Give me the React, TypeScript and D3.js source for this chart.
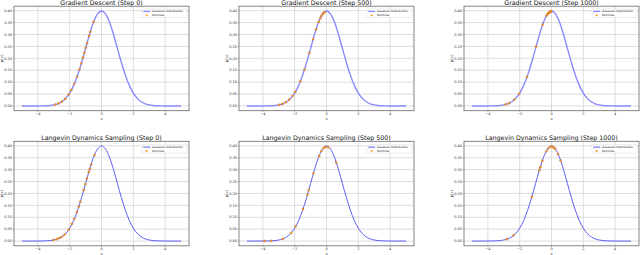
import React, { useEffect, useRef } from 'react';
import * as d3 from 'd3';

// density of the target Gaussian, read at x = -5 .. 5 step 0.25
const densityValues = [
  0.0, 0.0, 0.0, 0.0, 0.0001, 0.0004, 0.0009, 0.002, 0.0044, 0.0091, 0.0175,
  0.0317, 0.054, 0.0863, 0.1295, 0.1826, 0.242, 0.3011, 0.3521, 0.3867, 0.3989,
  0.3867, 0.3521, 0.3011, 0.242, 0.1826, 0.1295, 0.0863, 0.054, 0.0317, 0.0175,
  0.0091, 0.0044, 0.002, 0.0009, 0.0004, 0.0001, 0.0, 0.0, 0.0, 0.0,
];
const densityX = d3.range(densityValues.length).map(i => -5 + i * 0.25);

const titles = [
  'Gradient Descent (Step 0)',
  'Gradient Descent (Step 500)',
  'Gradient Descent (Step 1000)',
  'Langevin Dynamics Sampling (Step 0)',
  'Langevin Dynamics Sampling (Step 500)',
  'Langevin Dynamics Sampling (Step 1000)',
];

// particle positions (x) per panel
const gdStep0 = [-2.91, -2.7, -2.49, -2.28, -2.07, -1.9, -1.71, -1.54, -1.39, -1.27, -1.16, -1.08, -0.99, -0.91, -0.78, -0.7, -0.49];
const gdStep500 = [-2.97, -2.76, -2.55, -2.34, -2.13, -1.96, -1.65, -1.39, -1.08, -0.84, -0.65, -0.49, -0.38, -0.3, -0.21, -0.13];
const gdStep1000 = [-2.87, -2.66, -2.34, -2.03, -1.54, -0.97, -0.55, -0.3, -0.25, -0.19, -0.12, -0.08, -0.05, -0.02];
const ldStep0 = [-3.02, -2.81, -2.64, -2.49, -2.32, -2.07, -1.86, -1.71, -1.54, -1.43, -1.33, -1.12, -1.01, -0.91, -0.8, -0.74, -0.65, -0.44];
const ldStep500 = [-3.9, -3.48, -2.74, -2.22, -1.94, -1.48, -1.2, -1.12, -0.82, -0.46, -0.32, -0.19, -0.08, 0.11, 0.61];
const ldStep1000 = [-2.81, -2.38, -1.24, -0.76, -0.7, -0.57, -0.32, -0.19, -0.06, 0.04, 0.15, 0.23, 0.4, 0.57];
const particleSets = [gdStep0, gdStep500, gdStep1000, ldStep0, ldStep500, ldStep1000];

const xTicks = [-4, -2, 0, 2, 4];
const yTicks = [0, 0.05, 0.1, 0.15, 0.2, 0.25, 0.3, 0.35, 0.4];

function App() {
  const svgRef = useRef<SVGSVGElement>(null);

  useEffect(() => {
    const svg = d3.select(svgRef.current);
    svg.selectAll('*').remove();

    const colLeft = [14, 239, 464];
    const rowTop = [6.2, 141.3];
    const axW = 175;
    const axH = 104.5;
    const font = 'DejaVu Sans, sans-serif';

    const densityAt = d3.scaleLinear().domain(densityX).range(densityValues);

    titles.forEach((title, i) => {
      const row = Math.floor(i / 3);
      const col = i % 3;
      const g = svg.append('g')
        .attr('transform', `translate(${colLeft[col]},${rowTop[row]})`);

      const x = d3.scaleLinear().domain([-5.5, 5.5]).range([0, axW]);
      const y = d3.scaleLinear().domain([-0.01995, 0.4189]).range([axH, 0]);

      // grid
      g.selectAll('line.gx').data(xTicks).enter().append('line')
        .attr('x1', d => x(d)).attr('x2', d => x(d))
        .attr('y1', 0).attr('y2', axH)
        .attr('stroke', '#d9d9d9').attr('stroke-width', 0.9);
      g.selectAll('line.gy').data(yTicks).enter().append('line')
        .attr('x1', 0).attr('x2', axW)
        .attr('y1', d => y(d)).attr('y2', d => y(d))
        .attr('stroke', '#d9d9d9').attr('stroke-width', 0.9);

      // curve
      const line = d3.line<number>()
        .x((d, k) => x(densityX[k]))
        .y(d => y(d))
        .curve(d3.curveMonotoneX);
      g.append('path')
        .attr('d', line(densityValues))
        .attr('fill', 'none')
        .attr('stroke', row === 0 ? '#8a8aff' : '#5e5ef2')
        .attr('stroke-width', row === 0 ? 1.4 : 1);

      // particles
      g.selectAll('circle.p').data(particleSets[i]).enter().append('circle')
        .attr('cx', d => x(d))
        .attr('cy', d => y(densityAt(d)))
        .attr('r', 1.1)
        .attr('fill', '#ff9a1f')
        .attr('stroke', '#b5561a')
        .attr('stroke-width', 0.3);

      // spines
      g.append('rect')
        .attr('width', axW).attr('height', axH)
        .attr('fill', 'none').attr('stroke', '#666').attr('stroke-width', 0.8);

      // ticks
      const tickColor = '#333';
      g.selectAll('text.xt').data(xTicks).enter().append('text')
        .attr('x', d => x(d)).attr('y', axH + 3.2)
        .attr('dy', '0.35em')
        .attr('text-anchor', 'middle')
        .attr('font-family', font).attr('font-size', 3.5).attr('fill', tickColor)
        .text(d => d3.format('d')(d).replace('-', '\u2212'));
      g.selectAll('line.xtm').data(xTicks).enter().append('line')
        .attr('x1', d => x(d)).attr('x2', d => x(d))
        .attr('y1', axH).attr('y2', axH + 1.2)
        .attr('stroke', '#555').attr('stroke-width', 0.4);
      g.selectAll('text.yt').data(yTicks).enter().append('text')
        .attr('x', -2).attr('y', d => y(d))
        .attr('dy', '0.35em')
        .attr('text-anchor', 'end')
        .attr('font-family', font).attr('font-size', 3.5).attr('fill', tickColor)
        .text(d => d3.format('.2f')(d));
      g.selectAll('line.ytm').data(yTicks).enter().append('line')
        .attr('x1', -1.2).attr('x2', 0)
        .attr('y1', d => y(d)).attr('y2', d => y(d))
        .attr('stroke', '#555').attr('stroke-width', 0.4);

      // axis labels
      g.append('text')
        .attr('x', axW / 2).attr('y', axH + 8.2)
        .attr('dy', '0.35em')
        .attr('text-anchor', 'middle')
        .attr('font-family', font).attr('font-size', 3.8).attr('fill', tickColor)
        .text('x');
      g.append('text')
        .attr('transform', `translate(-11.3,${axH / 2}) rotate(-90)`)
        .attr('text-anchor', 'middle')
        .attr('font-family', font).attr('font-size', 3.8).attr('fill', tickColor)
        .text('p(x)');

      // title
      g.append('text')
        .attr('x', axW / 2).attr('y', row === 0 ? -0.8 : -1.8)
        .attr('text-anchor', 'middle')
        .attr('font-family', font).attr('font-size', 6.3).attr('fill', '#111')
        .text(title);

      // legend
      const lg = g.append('g').attr('transform', `translate(${axW - 47},${row === 0 ? 2.8 : 3.4})`);
      lg.append('rect')
        .attr('width', 45).attr('height', 8.5).attr('rx', 0.8)
        .attr('fill', 'white').attr('fill-opacity', 0.85)
        .attr('stroke', '#d0d0d0').attr('stroke-width', 0.4);
      lg.append('line')
        .attr('x1', 1.2).attr('x2', 8.2).attr('y1', 2.4).attr('y2', 2.4)
        .attr('stroke', row === 0 ? '#8a8aff' : '#5e5ef2')
        .attr('stroke-width', row === 0 ? 1.4 : 1);
      lg.append('circle')
        .attr('cx', 4.7).attr('cy', 6.2).attr('r', 1)
        .attr('fill', '#ff9a1f');
      lg.append('text')
        .attr('x', 10).attr('y', 2.4).attr('dy', '0.35em')
        .attr('font-family', font).attr('font-size', 2.9).attr('fill', '#222')
        .text('Gaussian Distribution');
      lg.append('text')
        .attr('x', 10).attr('y', 6.2).attr('dy', '0.35em')
        .attr('font-family', font).attr('font-size', 2.9).attr('fill', '#222')
        .text('Particles');
    });
  }, []);

  return (
    <svg ref={svgRef} width={640} height={255}
      style={{ position: 'absolute', left: 0, top: 0, background: 'white' }} />
  );
}

export default App;
